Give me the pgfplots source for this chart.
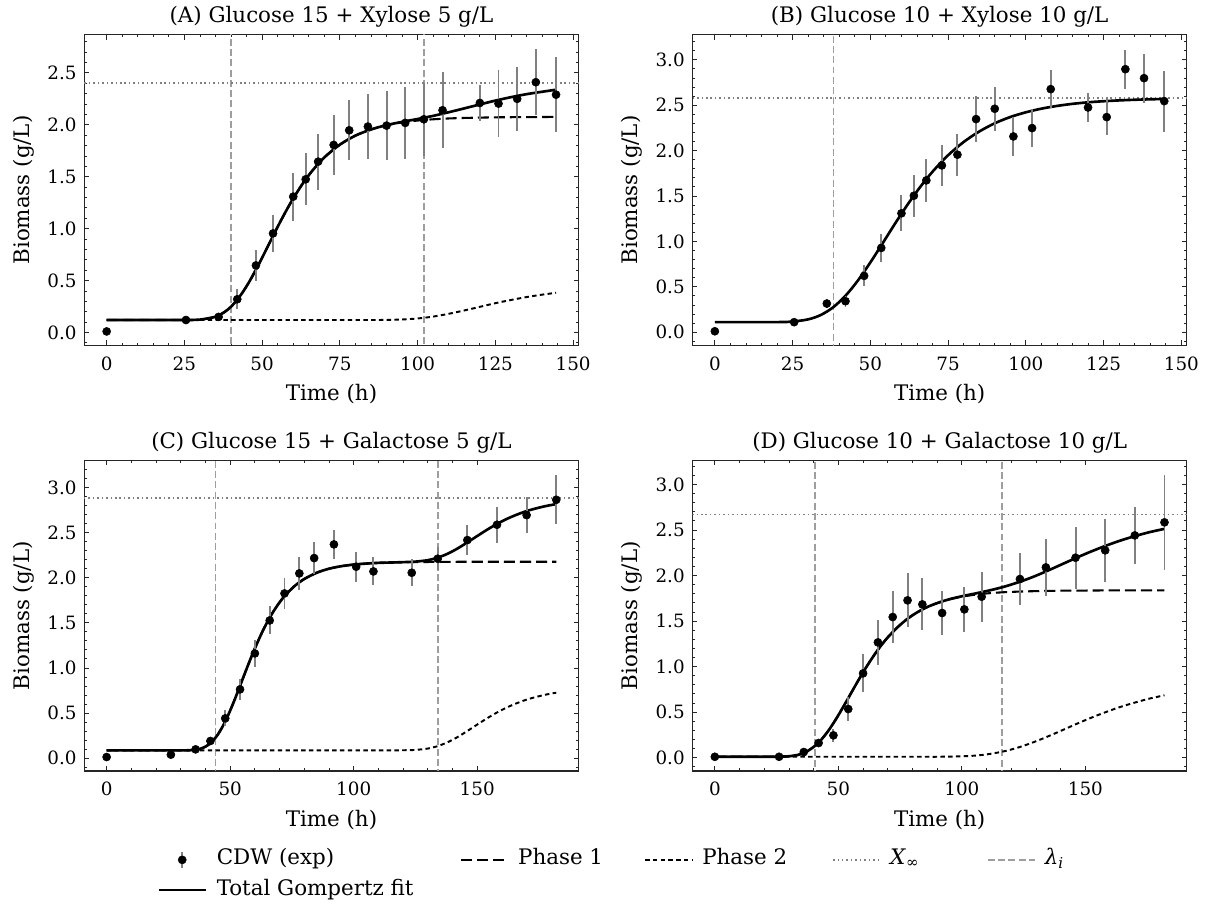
\documentclass[border=0pt]{standalone}
\usepackage{fontspec}
\setmainfont{DejaVu Serif}
\usepackage{pgfplots}
\pgfplotsset{compat=1.18}
\usepackage{pgfplotstable}

\newcommand\ticksize{\fontsize{13.2}{15}\selectfont}
\newcommand\labsize{\fontsize{15.4}{18}\selectfont}

\pgfplotstableread{
t y e
0 0.01 0
25.5 0.12 0.01
36 0.15 0.03
42 0.32 0.096
48 0.646 0.15
53.5 0.954 0.18
60 1.308 0.23
64 1.475 0.25
68 1.645 0.27
73 1.806 0.29
78 1.947 0.29
84 1.983 0.31
90 1.992 0.33
96 2.018 0.345
102 2.053 0.35
108 2.14 0.366
120 2.21 0.17
126 2.204 0.325
132 2.25 0.305
138 2.41 0.317
144.5 2.29 0.36
}\dataA
\pgfplotstableread{
t p1 p2 tot
0 0.120 0.120 0.120
20 0.120 0.120 0.120
25 0.120 0.120 0.120
30 0.124 0.120 0.124
35 0.152 0.120 0.152
38 0.199 0.120 0.199
40 0.249 0.120 0.249
42 0.316 0.120 0.316
44 0.399 0.120 0.399
46 0.496 0.120 0.496
48 0.605 0.120 0.605
50 0.720 0.120 0.720
52 0.840 0.120 0.840
54 0.960 0.120 0.960
56 1.076 0.120 1.076
58 1.187 0.120 1.187
60 1.291 0.120 1.291
63 1.432 0.120 1.432
66 1.553 0.120 1.553
70 1.686 0.120 1.686
75 1.809 0.120 1.809
80 1.896 0.120 1.896
85 1.955 0.120 1.955
90 1.996 0.121 1.997
95 2.023 0.125 2.028
100 2.041 0.135 2.056
105 2.053 0.153 2.086
110 2.061 0.180 2.121
115 2.066 0.212 2.158
120 2.069 0.247 2.196
125 2.072 0.282 2.233
130 2.073 0.313 2.266
135 2.074 0.341 2.295
140 2.075 0.364 2.318
144.5 2.076 0.382 2.338
}\fitA

\pgfplotstableread{
t y e
0 0.01 0
25.5 0.11 0.01
36 0.315 0.05
42 0.341 0.06
48 0.620 0.115
53.5 0.928 0.15
60 1.309 0.2
64 1.503 0.23
68 1.672 0.237
73 1.837 0.23
78 1.955 0.23
84 2.347 0.25
90 2.461 0.245
96 2.156 0.21
102 2.248 0.21
108 2.677 0.21
120 2.475 0.16
126 2.369 0.2
132 2.897 0.216
138 2.798 0.27
144.5 2.545 0.335
}\dataB
\pgfplotstableread{
t tot
0 0.110
20 0.111
25 0.117
30 0.141
34 0.188
38 0.273
42 0.401
46 0.569
50 0.768
54 0.982
58 1.199
62 1.407
66 1.598
70 1.768
75 1.949
80 2.095
85 2.210
90 2.301
95 2.370
100 2.422
105 2.462
110 2.492
115 2.515
120 2.532
125 2.544
130 2.553
135 2.560
140 2.565
144.5 2.569
}\fitB

\pgfplotstableread{
t y e
0 0.011 0
26 0.037 0.01
36 0.096 0.02
42 0.189 0.04
48 0.440 0.09
54 0.762 0.12
60 1.161 0.15
66 1.527 0.155
72 1.827 0.17
78 2.049 0.185
84 2.219 0.18
92 2.371 0.16
101 2.123 0.165
108 2.071 0.155
123.5 2.056 0.15
134 2.212 0.125
146 2.419 0.17
158 2.589 0.2
170 2.696 0.2
182 2.866 0.27
}\dataC
\pgfplotstableread{
t p1 p2 tot
0 0.085 0.085 0.085
20 0.085 0.085 0.085
30 0.085 0.085 0.085
34 0.087 0.085 0.087
38 0.103 0.085 0.103
41 0.143 0.085 0.143
44 0.223 0.085 0.223
46 0.304 0.085 0.304
48 0.406 0.085 0.406
50 0.527 0.085 0.527
52 0.660 0.085 0.660
54 0.801 0.085 0.801
56 0.944 0.085 0.944
58 1.084 0.085 1.084
60 1.217 0.085 1.217
63 1.400 0.085 1.400
66 1.558 0.085 1.558
69 1.689 0.085 1.689
72 1.797 0.085 1.797
76 1.907 0.085 1.907
80 1.987 0.085 1.987
85 2.056 0.085 2.056
90 2.101 0.085 2.101
95 2.129 0.085 2.129
100 2.147 0.085 2.147
105 2.158 0.085 2.158
110 2.166 0.085 2.166
115 2.170 0.085 2.170
120 2.173 0.086 2.174
125 2.175 0.090 2.180
130 2.176 0.105 2.196
134 2.177 0.132 2.224
138 2.177 0.175 2.267
142 2.178 0.232 2.325
146 2.178 0.300 2.393
150 2.178 0.371 2.464
154 2.178 0.441 2.534
158 2.178 0.505 2.598
162 2.178 0.561 2.654
166 2.178 0.608 2.701
170 2.178 0.648 2.741
174 2.178 0.679 2.772
178 2.178 0.705 2.798
182 2.178 0.725 2.818
}\fitC

\pgfplotstableread{
t y e
0 0.01 0
26 0.01 0
36 0.062 0.03
42 0.161 0.03
48 0.245 0.07
54 0.534 0.128
60 0.926 0.21
66 1.266 0.25
72 1.544 0.29
78 1.727 0.296
84 1.683 0.285
92 1.588 0.24
101 1.628 0.25
108 1.767 0.274
123.5 1.961 0.284
134 2.089 0.315
146 2.195 0.338
158 2.276 0.344
170 2.44 0.313
182 2.583 0.52
}\dataD
\pgfplotstableread{
t p1 p2 tot
0 0.010 0.010 0.010
20 0.010 0.010 0.010
26 0.011 0.010 0.011
30 0.016 0.010 0.016
34 0.033 0.010 0.033
37 0.064 0.010 0.064
40.6 0.131 0.010 0.131
43 0.195 0.010 0.195
46 0.298 0.010 0.298
49 0.422 0.010 0.422
52 0.559 0.010 0.559
55 0.702 0.010 0.702
58 0.845 0.010 0.845
61 0.981 0.010 0.981
64 1.107 0.010 1.107
67 1.221 0.010 1.221
70 1.321 0.010 1.321
74 1.433 0.010 1.433
78 1.525 0.010 1.525
82 1.597 0.010 1.597
86 1.654 0.010 1.654
90 1.697 0.010 1.697
95 1.738 0.012 1.740
100 1.767 0.015 1.772
105 1.788 0.022 1.800
110 1.803 0.036 1.829
116.2 1.815 0.065 1.870
122 1.822 0.105 1.918
128 1.827 0.160 1.976
134 1.830 0.224 2.044
140 1.833 0.294 2.117
146 1.834 0.366 2.190
152 1.835 0.435 2.260
158 1.836 0.498 2.324
164 1.836 0.556 2.382
170 1.837 0.605 2.432
176 1.837 0.649 2.476
182 1.837 0.685 2.512
}\fitD

\pgfplotsset{
  panel/.style={
    scale only axis, width=356.1pt, height=223.4pt,
    anchor=south west,
    axis line style={black!85, line width=0.75pt},
    tick align=inside, tick pos=both,
    major tick length=3.4pt, minor tick length=1.8pt,
    every tick/.style={black!85, line width=0.6pt},
    minor x tick num=4, minor y tick num=4,
    ytick distance=0.5,
    /pgf/number format/assume math mode=true,
    tick label style={font=\ticksize},
    yticklabel style={/pgf/number format/fixed, /pgf/number format/fixed zerofill, /pgf/number format/precision=1, anchor=east, inner sep=0pt, xshift=-5.3pt},
    xticklabel style={anchor=base, yshift=-18pt},
    xlabel={Time (h)}, ylabel={Biomass (g/L)},
    label style={font=\labsize},
    xlabel style={at={(axis description cs:0.5,-0.1797)}, anchor=base},
    ylabel style={at={(axis description cs:-0.1105,0.5)}, anchor=base},
    title style={at={(axis description cs:0.5,1)}, anchor=base, yshift=2.6pt, font=\labsize},
  },
  datapts/.style={only marks, mark=*, mark size=2.9pt, black,
    error bars/.cd, y dir=both, y explicit, error mark=none,
    error bar style={black!50, line width=1.4pt}},
  totfit/.style={black, line width=1.9pt, smooth},
  ph1/.style={black, line width=1.5pt, dash pattern=on 8pt off 3.6pt, smooth},
  ph2/.style={black, line width=1.4pt, dash pattern=on 3.2pt off 2.4pt, smooth},
  xinf/.style={black!50, line width=1.1pt, dash pattern=on 1.1pt off 2.1pt},
  lam/.style={black!38, line width=1.1pt, dash pattern=on 5pt off 2.4pt},
}

\begin{document}
\begin{tikzpicture}
\useasboundingbox (0,0) rectangle (872.64pt,-653.76pt);

% (A)
\begin{axis}[panel, at={(60.6pt,-248.5pt)},
  xmin=-7.23, xmax=151.8, ymin=-0.122, ymax=2.866,
  xtick={0,25,...,150},
  title={(A) Glucose 15 + Xylose 5 g/L}]
\addplot[lam] coordinates {(40,-1) (40,5)};
\addplot[lam] coordinates {(102,-1) (102,5)};
\addplot[xinf] coordinates {(-20,2.40) (200,2.40)};
\addplot[ph1] table[x=t, y=p1] {\fitA};
\addplot[ph2] table[x=t, y=p2] {\fitA};
\addplot[totfit] table[x=t, y=tot] {\fitA};
\addplot[datapts] table[x=t, y=y, y error=e] {\dataA};
\end{axis}

% (B)
\begin{axis}[panel, at={(498.5pt,-248.5pt)},
  xmin=-7.23, xmax=151.8, ymin=-0.143, ymax=3.275,
  xtick={0,25,...,150},
  title={(B) Glucose 10 + Xylose 10 g/L}]
\addplot[lam] coordinates {(38.2,-1) (38.2,5)};
\addplot[xinf] coordinates {(-20,2.58) (200,2.58)};
\addplot[totfit] table[x=t, y=tot] {\fitB};
\addplot[datapts] table[x=t, y=y, y error=e] {\dataB};
\end{axis}

% (C)
\begin{axis}[panel, at={(60.6pt,-555.1pt)},
  xmin=-9.1, xmax=191.1, ymin=-0.144, ymax=3.30,
  xtick={0,50,100,150},
  title={(C) Glucose 15 + Galactose 5 g/L}]
\addplot[lam] coordinates {(44,-1) (44,5)};
\addplot[lam] coordinates {(134.2,-1) (134.2,5)};
\addplot[xinf] coordinates {(-20,2.885) (200,2.885)};
\addplot[ph1] table[x=t, y=p1] {\fitC};
\addplot[ph2] table[x=t, y=p2] {\fitC};
\addplot[totfit] table[x=t, y=tot] {\fitC};
\addplot[datapts] table[x=t, y=y, y error=e] {\dataC};
\end{axis}

% (D)
\begin{axis}[panel, at={(498.5pt,-555.1pt)},
  xmin=-9.1, xmax=191.1, ymin=-0.146, ymax=3.26,
  xtick={0,50,100,150},
  title={(D) Glucose 10 + Galactose 10 g/L}]
\addplot[lam] coordinates {(40.6,-1) (40.6,5)};
\addplot[lam] coordinates {(116.2,-1) (116.2,5)};
\addplot[xinf] coordinates {(-20,2.667) (200,2.667)};
\addplot[ph1] table[x=t, y=p1] {\fitD};
\addplot[ph2] table[x=t, y=p2] {\fitD};
\addplot[totfit] table[x=t, y=tot] {\fitD};
\addplot[datapts] table[x=t, y=y, y error=e] {\dataD};
\end{axis}

% legend
\begin{axis}[at={(60.6pt,-555.1pt)}, anchor=south west, scale only axis,
  width=356.1pt, height=223.4pt, hide axis,
  xmin=0, xmax=1, ymin=0, ymax=1,
  legend columns=5, legend cell align=left,
  legend image code/.code={\draw[#1] (0pt,0pt) -- (34pt,0pt);},
  legend style={at={(axis description cs:0.149,-0.2565)}, anchor=north west,
    draw=none, fill=none, inner sep=0pt, outer sep=0pt, font=\labsize,
    row sep=8.6pt,
    nodes={inner sep=0pt, text height=10pt, text depth=3pt},
    /tikz/every odd column/.append style={column sep=6.5pt},
    /tikz/every even column/.append style={column sep=0pt}}]
\addlegendimage{legend image code/.code={\draw[black!50, line width=1.4pt] (16.6pt,-6pt) -- (16.6pt,6pt); \fill[black] (16.6pt,0pt) circle (2.9pt);}}
\addlegendentry{\makebox[175pt][l]{CDW (exp)}}
\addlegendimage{black, line width=1.5pt, dash pattern=on 8pt off 3.6pt}
\addlegendentry{\makebox[90.7pt][l]{Phase 1}}
\addlegendimage{black, line width=1.4pt, dash pattern=on 3.2pt off 2.4pt}
\addlegendentry{\makebox[93.6pt][l]{Phase 2}}
\addlegendimage{black!50, line width=1.1pt, dash pattern=on 1.1pt off 2.1pt}
\addlegendentry{\makebox[69.8pt][l]{\textit{X}\textsubscript{∞}}}
\addlegendimage{black!38, line width=1.1pt, dash pattern=on 5pt off 2.4pt}
\addlegendentry{\textit{λ}\textsubscript{\textit{i}}}
\addlegendimage{black, line width=1.9pt}
\addlegendentry{Total Gompertz fit}
\end{axis}
\end{tikzpicture}
\end{document}
